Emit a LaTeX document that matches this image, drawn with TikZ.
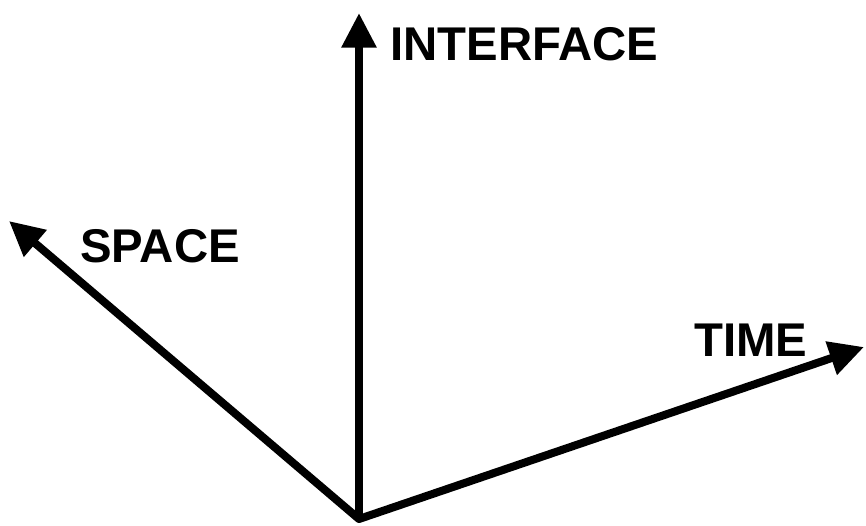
\documentclass[tikz,border=0pt]{standalone}
\usepackage{fontspec}
\setmainfont{Liberation Sans}
\usetikzlibrary{arrows.meta}
\begin{document}
\begin{tikzpicture}[x=0.75pt,y=-0.75pt,
  axis/.style={line width=6pt,line join=round,-{Triangle[length=26pt,width=25pt]}},
  axis2/.style={line width=6pt,line join=round,{Triangle[length=26pt,width=25pt]}-{Triangle[length=26pt,width=25pt]}},
  lbl/.style={anchor=base west,inner sep=0pt,font=\fontsize{35.5pt}{37pt}\selectfont\bfseries}]
\useasboundingbox (0,0) rectangle (866,525);
\coordinate (O) at (359,519);
\coordinate (U) at (359,13);
\coordinate (S) at (9,221);
\coordinate (T) at (864,347);
\draw[axis] (O) -- (U);
\draw[axis2] (S) -- (O) -- (T);
\node[lbl] (interface) at (390,60) {INTERFACE};
\node[lbl] (space) at (80,262) {SPACE};
\node[lbl] (time) at (694,356) {TIME};
\end{tikzpicture}
\end{document}
